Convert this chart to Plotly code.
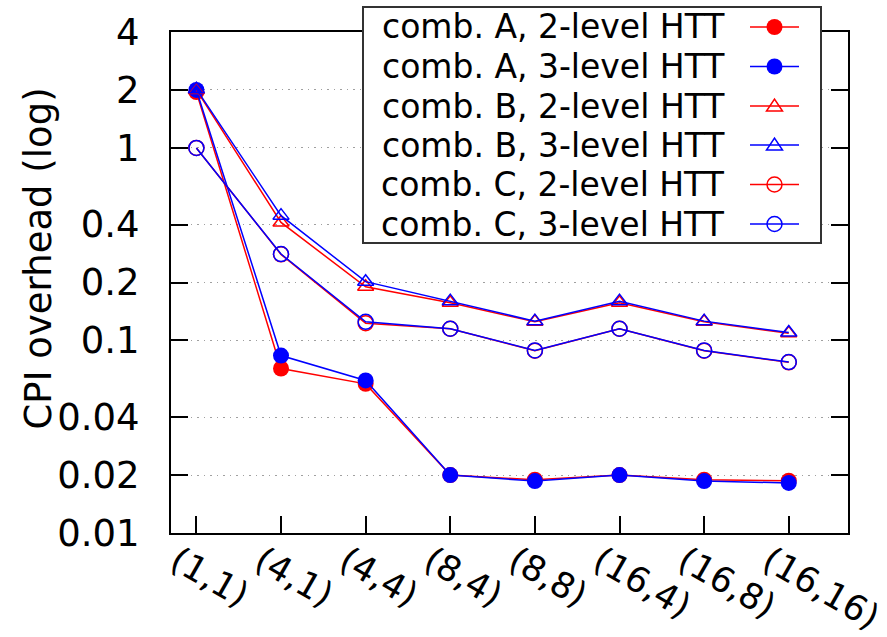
import plotly.graph_objects as go

categories = ["(1,1)", "(4,1)", "(4,4)", "(8,4)", "(8,8)", "(16,4)", "(16,8)", "(16,16)"]

comb_a_2lvl = [1.95, 0.0715, 0.0595, 0.0200, 0.0189, 0.0200, 0.0189, 0.0187]
comb_a_3lvl = [2.00, 0.0835, 0.0620, 0.0200, 0.0186, 0.0200, 0.0186, 0.0182]
comb_b_2lvl = [2.00, 0.410, 0.190, 0.157, 0.125, 0.157, 0.125, 0.109]
comb_b_3lvl = [2.02, 0.445, 0.202, 0.160, 0.126, 0.160, 0.126, 0.110]
comb_c_2lvl = [1.00, 0.280, 0.123, 0.115, 0.0885, 0.115, 0.0885, 0.0770]
comb_c_3lvl = [1.00, 0.281, 0.125, 0.115, 0.0888, 0.115, 0.0888, 0.0772]

y_tickvals = [0.01, 0.02, 0.04, 0.1, 0.2, 0.4, 1, 2, 4]
y_ticktext = ["0.01", "0.02", "0.04", "0.1", "0.2", "0.4", "1", "2", "4"]

series_names = ["comb. A, 2-level HTT", "comb. A, 3-level HTT",
                "comb. B, 2-level HTT", "comb. B, 3-level HTT",
                "comb. C, 2-level HTT", "comb. C, 3-level HTT"]

RED = "#ff0000"
BLUE = "#0000ff"
FONT = "DejaVu Sans"

W, H = 887, 637
L, R, T, B = 171, 39, 32, 104
PW, PH = W - L - R, H - T - B


def px(x):
    return (x - L) / PW


def py(y):
    return (H - B - y) / PH


series = [
    (comb_a_2lvl, RED, "circle", 16, 0),
    (comb_a_3lvl, BLUE, "circle", 16, 0),
    (comb_b_2lvl, RED, "triangle-up-open", 14, 1.5),
    (comb_b_3lvl, BLUE, "triangle-up-open", 14, 1.5),
    (comb_c_2lvl, RED, "circle-open", 15, 1.5),
    (comb_c_3lvl, BLUE, "circle-open", 15, 1.5),
]

fig = go.Figure()
for (vals, color, sym, size, mlw), name in zip(series, series_names):
    fig.add_trace(go.Scatter(
        x=categories, y=vals, name=name, mode="lines+markers",
        line=dict(color=color, width=1.5),
        marker=dict(symbol=sym, size=size, color=color,
                    line=dict(color=color, width=mlw)),
        showlegend=False,
    ))

# custom legend (text on the left, sample on the right, as in the reference)
shapes = []
annotations = []
shapes.append(dict(type="rect", xref="paper", yref="paper",
                   x0=px(363), x1=px(821), y0=py(243), y1=py(7),
                   line=dict(color="#333333", width=2), fillcolor="white",
                   layer="above"))
row_y = [27, 66.5, 106, 145, 184.5, 224]
for (vals, color, sym, size, mlw), name, ry in zip(series, series_names, row_y):
    annotations.append(dict(x=px(727), y=py(ry), xref="paper", yref="paper",
                            text=name, showarrow=False, xanchor="right",
                            yanchor="middle",
                            font=dict(family=FONT, size=33, color="black")))
    shapes.append(dict(type="line", xref="paper", yref="paper",
                       x0=px(750), x1=px(799), y0=py(ry), y1=py(ry),
                       line=dict(color=color, width=1.5), layer="above"))
    cx = 774.5
    if sym == "circle":
        shapes.append(dict(type="circle", xref="paper", yref="paper",
                           x0=px(cx - 8), x1=px(cx + 8), y0=py(ry + 8), y1=py(ry - 8),
                           line=dict(color=color, width=0), fillcolor=color,
                           layer="above"))
    elif sym == "circle-open":
        shapes.append(dict(type="circle", xref="paper", yref="paper",
                           x0=px(cx - 7.5), x1=px(cx + 7.5), y0=py(ry + 7.5), y1=py(ry - 7.5),
                           line=dict(color=color, width=1.5),
                           layer="above"))
    else:
        path = "M {:.5f},{:.5f} L {:.5f},{:.5f} L {:.5f},{:.5f} Z".format(
            px(cx - 8), py(ry + 5), px(cx + 8), py(ry + 5), px(cx), py(ry - 7))
        shapes.append(dict(type="path", xref="paper", yref="paper", path=path,
                           line=dict(color=color, width=1.5), layer="above"))

annotations.append(dict(x=px(37.5), y=py(259), xref="paper", yref="paper",
                        text="CPI overhead (log)", showarrow=False, textangle=-90,
                        xanchor="center", yanchor="middle",
                        font=dict(family=FONT, size=37, color="black")))

fig.update_layout(
    width=W, height=H,
    margin=dict(l=L, r=R, t=T, b=B, pad=0, autoexpand=False),
    paper_bgcolor="white", plot_bgcolor="white",
    font=dict(family=FONT, color="black"),
    shapes=shapes, annotations=annotations,
    xaxis=dict(type="category", categoryorder="array", categoryarray=categories,
               range=[-0.3, 7.7], showgrid=False, zeroline=False, automargin=False,
               showline=True, linecolor="black", linewidth=2, mirror=True,
               ticks="inside", ticklen=17, tickwidth=2, tickcolor="black",
               tickangle=30, tickfont=dict(family=FONT, size=35, color="black"),
               ticklabelstandoff=-8, ticklabelshift=-20),
    yaxis=dict(type="log", range=[-2, 0.60206], tickvals=y_tickvals,
               ticktext=y_ticktext, showgrid=True, gridcolor="#a0a0a0",
               gridwidth=1, griddash="1.5px,5px", zeroline=False, automargin=False,
               showline=True, linecolor="black", linewidth=2, mirror="ticks",
               ticks="inside", ticklen=17, tickwidth=2, tickcolor="black",
               tickfont=dict(family=FONT, size=37, color="black"),
               ticklabelstandoff=22),
)

fig.write_html("out.html", config={"displayModeBar": False},
               post_script="document.body.style.margin='0px';document.body.style.padding='0px';")
